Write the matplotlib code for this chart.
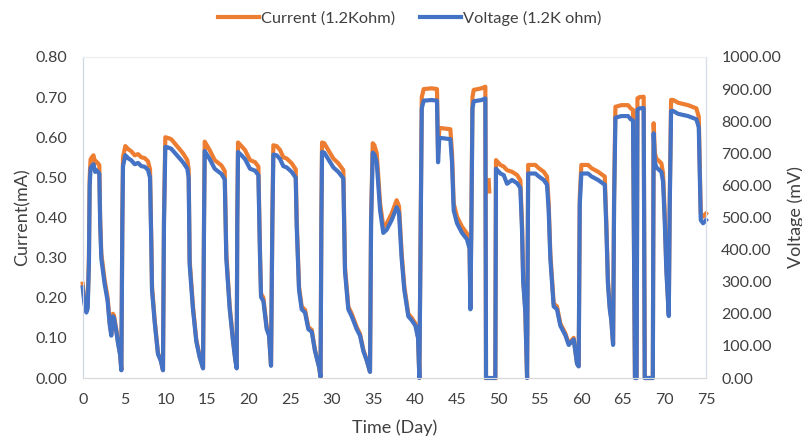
import numpy as np
import matplotlib
matplotlib.use("Agg")
import matplotlib.pyplot as plt

plt.rcParams["font.family"] = ["Lato", "DejaVu Sans"]

nan = np.nan

# time axis (days), shared by both series
days = [
    0.0, 0.2, 0.44, 0.6, 0.75, 0.84, 0.95, 1.1, 1.3, 1.5, 1.6, 1.85, 2.0, 2.1, 2.24, 2.64, 3.0, 3.24, 3.44, 3.64, 3.77, 4.05, 4.25, 4.5, 4.65,
    4.77, 4.85, 5.13, 5.5, 5.85, 6.26, 6.66, 7.06, 7.46, 7.86, 8.1, 8.25, 8.34, 8.66, 9.06, 9.39, 9.66,
    9.78, 9.94, 10.3, 10.66, 11.07, 11.47, 12.07, 12.59, 12.75, 12.87, 13.27, 13.67, 14.08, 14.48,
    14.6, 14.68, 15.28, 15.88, 16.68, 17.09, 17.28, 17.69, 18.09, 18.37, 18.53,
    18.6, 18.69, 19.1, 19.53, 20.13, 20.73, 21.14, 21.34, 21.46, 21.74, 22.14, 22.42, 22.66,
    22.82, 22.94, 23.34, 23.75, 24.14, 24.55, 25.15, 25.63, 25.75, 26.03, 26.35, 26.75, 27.15, 27.56, 27.95, 28.44, 28.62,
    28.72, 28.8, 29.07, 29.55, 30.16, 30.76, 31.36, 31.56, 31.96, 32.37, 32.97, 33.37, 33.77, 34.18, 34.57,
    34.7, 34.9, 35.1, 35.38, 35.78, 36.17, 36.58, 37.18, 37.78, 38.06, 38.38, 38.7, 39.18, 39.59, 40.03, 40.35, 40.51,
    40.63, 40.8, 41.03, 42.0, 42.63, 42.76, 42.9, 43.04, 44.24, 44.44, 44.64, 45.04, 45.64, 46.24, 46.55, 46.65,
    46.77, 46.9, 47.05, 48.0, 48.45, 48.53, 48.6, 48.85, 48.92, 49.0, 49.65,
    49.73, 50.26, 50.66, 51.06, 51.66, 52.26, 52.66, 52.86, 53.0, 53.26, 53.47,
    53.6, 54.47, 54.87, 55.47, 55.87, 56.07, 56.27, 56.67, 57.07, 57.47, 58.08, 58.48, 58.88, 59.08, 59.48, 59.68,
    59.81, 60.0, 60.81, 61.21, 62.01, 62.82, 63.0, 63.2, 63.42, 63.6, 63.82,
    63.94, 64.1, 64.82, 65.62, 65.94, 66.22, 66.45, 66.65, 66.75, 67.0, 67.5, 67.63, 68.6,
    68.7, 68.85, 69.03, 69.63, 69.83, 70.03, 70.23, 70.52,
    70.64, 70.8, 71.04, 71.64, 72.84, 73.84, 74.13, 74.37, 74.65, 75.0,
]

# Current (1.2Kohm), mA
current_ma = [
    0.235, 0.195, 0.17, 0.18, 0.30, 0.50, 0.545, 0.55, 0.555, 0.535, 0.54, 0.535, 0.53, 0.40, 0.31, 0.244, 0.20, 0.14, 0.11, 0.16, 0.155, 0.12, 0.09, 0.06, 0.02,
    0.40, 0.55, 0.578, 0.57, 0.565, 0.555, 0.558, 0.55, 0.548, 0.54, 0.52, 0.35, 0.228, 0.145, 0.062, 0.045, 0.02,
    0.40, 0.60, 0.598, 0.595, 0.585, 0.575, 0.56, 0.543, 0.52, 0.294, 0.178, 0.095, 0.053, 0.025,
    0.40, 0.589, 0.568, 0.543, 0.53, 0.516, 0.31, 0.178, 0.095, 0.045, 0.025,
    0.40, 0.587, 0.578, 0.568, 0.543, 0.538, 0.527, 0.31, 0.21, 0.20, 0.127, 0.11, 0.032,
    0.40, 0.58, 0.578, 0.568, 0.55, 0.547, 0.535, 0.52, 0.394, 0.228, 0.178, 0.17, 0.127, 0.12, 0.07, 0.028, 0.003,
    0.40, 0.587, 0.585, 0.568, 0.547, 0.535, 0.518, 0.277, 0.178, 0.16, 0.127, 0.11, 0.07, 0.045, 0.016,
    0.40, 0.585, 0.58, 0.56, 0.436, 0.377, 0.385, 0.41, 0.443, 0.428, 0.31, 0.228, 0.16, 0.15, 0.136, 0.103, 0.0,
    0.30, 0.70, 0.72, 0.722, 0.72, 0.56, 0.62, 0.623, 0.62, 0.56, 0.435, 0.402, 0.377, 0.36, 0.336, 0.178,
    0.40, 0.70, 0.718, 0.722, 0.726, 0.0, nan, 0.493, 0.465, nan, 0.0,
    0.543, 0.531, 0.527, 0.518, 0.514, 0.506, 0.493, 0.385, 0.25, 0.17, 0.0,
    0.531, 0.531, 0.523, 0.514, 0.502, 0.435, 0.31, 0.186, 0.178, 0.136, 0.111, 0.086, 0.095, 0.10, 0.037, 0.03,
    0.45, 0.531, 0.531, 0.523, 0.514, 0.502, 0.394, 0.244, 0.178, 0.15, 0.086,
    0.45, 0.676, 0.68, 0.68, 0.672, 0.668, 0.0, 0.0, 0.697, 0.70, 0.701, 0.0, 0.0,
    0.635, 0.56, 0.547, 0.535, 0.51, 0.41, 0.277, 0.161,
    0.45, 0.693, 0.693, 0.686, 0.68, 0.672, 0.651, 0.41, 0.402, 0.41,
]

# Voltage (1.2K ohm), mV
voltage_mv = [
    282, 234, 204, 216, 360, 600, 654, 660, 666, 642, 648, 642, 636, 480, 372, 293, 240, 168, 132, 192, 186, 144, 108, 72, 24,
    480, 660, 694, 684, 678, 666, 670, 660, 658, 648, 624, 420, 274, 174, 74, 54, 24,
    480, 720, 718, 714, 702, 690, 672, 652, 624, 353, 214, 114, 64, 30,
    480, 707, 682, 652, 636, 619, 372, 214, 114, 54, 30,
    480, 704, 694, 682, 652, 646, 632, 372, 252, 240, 152, 132, 38,
    480, 696, 694, 682, 660, 656, 642, 624, 473, 274, 214, 204, 152, 144, 84, 34, 4,
    480, 704, 702, 682, 656, 642, 622, 332, 214, 192, 152, 132, 84, 54, 19,
    480, 702, 696, 672, 523, 452, 462, 492, 532, 514, 372, 274, 192, 180, 163, 124, 0,
    360, 840, 864, 866, 864, 672, 744, 748, 744, 672, 522, 482, 452, 432, 403, 214,
    480, 840, 862, 866, 871, 0, 0, 0, 0, 0, 0,
    652, 637, 632, 605, 617, 607, 592, 462, 300, 204, 0,
    637, 637, 628, 617, 602, 522, 372, 223, 214, 163, 133, 103, 114, 120, 44, 36,
    540, 637, 637, 628, 617, 602, 473, 293, 214, 180, 103,
    540, 811, 816, 816, 806, 802, 0, 0, 836, 840, 841, 0, 0,
    762, 672, 656, 642, 612, 492, 332, 193,
    540, 832, 832, 823, 816, 806, 781, 492, 482, 492,
]

x_ticks = list(range(0, 80, 5))
left_ticks = [0.0, 0.1, 0.2, 0.3, 0.4, 0.5, 0.6, 0.7, 0.8]
right_ticks = [0, 100, 200, 300, 400, 500, 600, 700, 800, 900, 1000]

orange = "#ED7D31"
blue = "#4472C4"
txt = "#404040"

fig = plt.figure(figsize=(8.02, 4.37), dpi=100)
ax = fig.add_axes([82.7 / 802, 1 - 378 / 437, 623.3 / 802, 321 / 437])
ax2 = ax.twinx()

l1, = ax.plot(days, current_ma, color=orange, lw=3.0, clip_on=False,
              solid_joinstyle="round", label="Current (1.2Kohm)")
l2, = ax2.plot(days, voltage_mv, color=blue, lw=3.0, clip_on=False,
               solid_joinstyle="round", label="Voltage (1.2K ohm)")

ax.set_xlim(0, 75)
ax.set_ylim(0, 0.8)
ax2.set_ylim(0, 1000)
ax.set_xticks(x_ticks)
ax.set_yticks(left_ticks)
ax2.set_yticks(right_ticks)
ax.set_yticklabels(["%.2f" % v for v in left_ticks])
ax2.set_yticklabels(["%.2f" % v for v in right_ticks])

ax.tick_params(axis="x", length=0, pad=11, labelsize=11.5, labelcolor=txt)
ax.tick_params(axis="y", length=0, pad=11, labelsize=11.5, labelcolor=txt)
ax2.tick_params(axis="y", length=0, pad=11, labelsize=11.5, labelcolor=txt)

for a in (ax, ax2):
    a.spines["left"].set_color("#cfd7e6")
    a.spines["right"].set_color("#d6dce8")
    a.spines["top"].set_color("#ededed")
    a.spines["bottom"].set_color("#d9d9d9")
ax.set_zorder(0)
ax2.set_zorder(1)

ax.set_xlabel("Time (Day)", fontsize=13, color=txt)
ax.set_ylabel("Current(mA)", fontsize=13, color=txt)
ax2.set_ylabel("Voltage (mV)", fontsize=13, color=txt)
ax.xaxis.set_label_coords(0.5, -0.13)
ax.yaxis.set_label_coords(-0.083, 0.5)
ax2.yaxis.set_label_coords(1.13, 0.5)

fig.legend(handles=[l1, l2], loc="center", bbox_to_anchor=(0.511, 0.958), ncol=2,
           frameon=False, fontsize=11.8, handlelength=2.5, handletextpad=0.15,
           columnspacing=1.5, labelcolor=txt)

fig.savefig("out.png", dpi=100)
